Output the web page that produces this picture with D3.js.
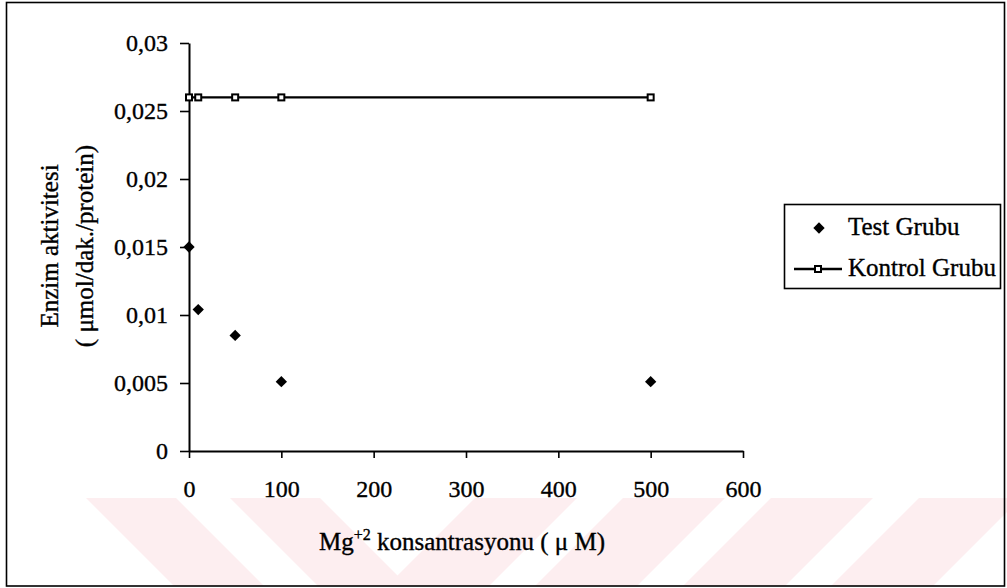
<!DOCTYPE html>
<html>
<head>
<meta charset="utf-8">
<script src="https://cdn.jsdelivr.net/npm/d3@7/dist/d3.min.js"></script>
<style>
	html, body { margin: 0; padding: 0; background: #fff; }
	svg { display: block; }
	text { font-family: "Liberation Serif", "Times New Roman", serif; fill: #000; stroke: #000; stroke-width: 0.35px; }
</style>
</head>
<body>
<div id="chart"></div>
<script>
// values
var concentrations = [0, 10, 50, 100, 500];
var testValues = [0.015, 0.0104, 0.0085, 0.0051, 0.0051];
var controlValues = [0.026, 0.026, 0.026, 0.026, 0.026];

var xTicks = [0, 100, 200, 300, 400, 500, 600];
var yTicks = [0, 0.005, 0.01, 0.015, 0.02, 0.025, 0.03];
var yTickLabels = ["0", "0,005", "0,01", "0,015", "0,02", "0,025", "0,03"];

var seriesNames = ["Test Grubu", "Kontrol Grubu"];

var dimensions = {
	width: 1007,
	height: 588,
	plot: { left: 189, right: 743, top: 43, bottom: 451 }
};

var svg = d3.select("#chart")
	.append("svg")
	.attr("width", dimensions.width)
	.attr("height", dimensions.height);

// faint watermark stripes from the scanned page
var watermark = svg.append("g").attr("class", "watermark");
var wmTop = 498, wmBottom = 586, wmDepth = wmBottom - wmTop;
[86, 230].forEach(function(x0) {
	watermark.append("path")
		.attr("d", "M" + x0 + "," + wmTop + "L" + (x0 + 90) + "," + wmTop +
			"L" + (x0 + 90 + wmDepth) + "," + wmBottom + "L" + (x0 + wmDepth) + "," + wmBottom + "Z")
		.attr("fill", "#fdeef0");
});
[475, 623, 771, 919].forEach(function(x0) {
	watermark.append("path")
		.attr("d", "M" + x0 + "," + wmTop + "L" + (x0 + 102) + "," + wmTop +
			"L" + (x0 + 102 - wmDepth) + "," + wmBottom + "L" + (x0 - wmDepth) + "," + wmBottom + "Z")
		.attr("fill", "#fdeef0");
});

// outer frame
svg.append("rect")
	.attr("x", 6.5)
	.attr("y", 2.5)
	.attr("width", 998)
	.attr("height", 583.5)
	.attr("fill", "none")
	.attr("stroke", "#000")
	.attr("stroke-width", 1.6);

var x = d3.scaleLinear()
	.domain([0, 600])
	.range([dimensions.plot.left, dimensions.plot.right]);

var y = d3.scaleLinear()
	.domain([0, 0.03])
	.range([dimensions.plot.bottom, dimensions.plot.top]);

// x axis
var xAxis = svg.append("g")
	.attr("transform", "translate(0," + dimensions.plot.bottom + ")")
	.call(d3.axisBottom(x).tickValues(xTicks).tickSize(7).tickSizeOuter(0).tickPadding(22));
xAxis.select(".domain").attr("stroke-width", 2);
xAxis.selectAll(".tick line").attr("stroke-width", 1.6);
xAxis.selectAll(".tick text")
	.attr("font-size", 24)
	.attr("font-family", "Liberation Serif, serif");

// y axis
var yAxis = svg.append("g")
	.attr("transform", "translate(" + dimensions.plot.left + ",0)")
	.call(d3.axisLeft(y).tickValues(yTicks).tickSize(9).tickSizeOuter(0).tickPadding(12)
		.tickFormat(function(d, i) { return yTickLabels[i]; }));
yAxis.select(".domain").attr("stroke-width", 2);
yAxis.selectAll(".tick line").attr("stroke-width", 1.6);
yAxis.selectAll(".tick text")
	.attr("font-size", 24)
	.attr("font-family", "Liberation Serif, serif");

// axis titles
var yTitle = svg.append("text")
	.attr("transform", "translate(58,246) rotate(-90)")
	.attr("text-anchor", "middle")
	.attr("font-size", 25);
yTitle.append("tspan").attr("x", 0).attr("y", 0).text("Enzim aktivitesi");
yTitle.append("tspan").attr("x", 0).attr("y", 35).text("( \u03bcmol/dak./protein)");

var xTitle = svg.append("text")
	.attr("x", 462)
	.attr("y", 550)
	.attr("text-anchor", "middle")
	.attr("font-size", 25);
xTitle.append("tspan").text("Mg");
xTitle.append("tspan").attr("dy", -10).attr("font-size", 16).text("+2");
xTitle.append("tspan").attr("dy", 10).text(" konsantrasyonu ( \u03bc M)");

var points = concentrations.map(function(c, i) {
	return { conc: c, test: testValues[i], control: controlValues[i] };
});

// kontrol grubu line with small square markers
var line = d3.line()
	.x(function(d) { return x(d.conc); })
	.y(function(d) { return y(d.control); });

svg.append("path")
	.datum(points)
	.attr("d", line)
	.attr("fill", "none")
	.attr("stroke", "#000")
	.attr("stroke-width", 2.4);

svg.selectAll("rect.control")
	.data(points)
	.enter()
	.append("rect")
	.attr("class", "control")
	.attr("x", function(d) { return x(d.conc) - 3; })
	.attr("y", function(d) { return y(d.control) - 3; })
	.attr("width", 6)
	.attr("height", 6)
	.attr("fill", "#fff")
	.attr("stroke", "#000")
	.attr("stroke-width", 2);

// test grubu diamonds
var diamond = d3.symbol().type(d3.symbolSquare).size(64);

svg.selectAll("path.test")
	.data(points)
	.enter()
	.append("path")
	.attr("class", "test")
	.attr("d", diamond)
	.attr("transform", function(d) {
		return "translate(" + x(d.conc) + "," + y(d.test) + ") rotate(45)";
	})
	.attr("fill", "#000");

// legend
var legend = svg.append("g").attr("transform", "translate(784,204)");

legend.append("rect")
	.attr("x", 0.5)
	.attr("y", 0.5)
	.attr("width", 216)
	.attr("height", 84)
	.attr("fill", "#fff")
	.attr("stroke", "#000")
	.attr("stroke-width", 1.6);

legend.append("path")
	.attr("d", diamond)
	.attr("transform", "translate(35,24) rotate(45)")
	.attr("fill", "#000");

legend.append("line")
	.attr("x1", 10)
	.attr("x2", 58)
	.attr("y1", 65)
	.attr("y2", 65)
	.attr("stroke", "#000")
	.attr("stroke-width", 2.4);

legend.append("rect")
	.attr("x", 31)
	.attr("y", 62)
	.attr("width", 6)
	.attr("height", 6)
	.attr("fill", "#fff")
	.attr("stroke", "#000")
	.attr("stroke-width", 2);

legend.selectAll("text")
	.data(seriesNames)
	.enter()
	.append("text")
	.attr("x", 64)
	.attr("y", function(d, i) { return 31 + i * 41; })
	.attr("font-size", 25)
	.text(function(d) { return d; });
</script>
</body>
</html>
